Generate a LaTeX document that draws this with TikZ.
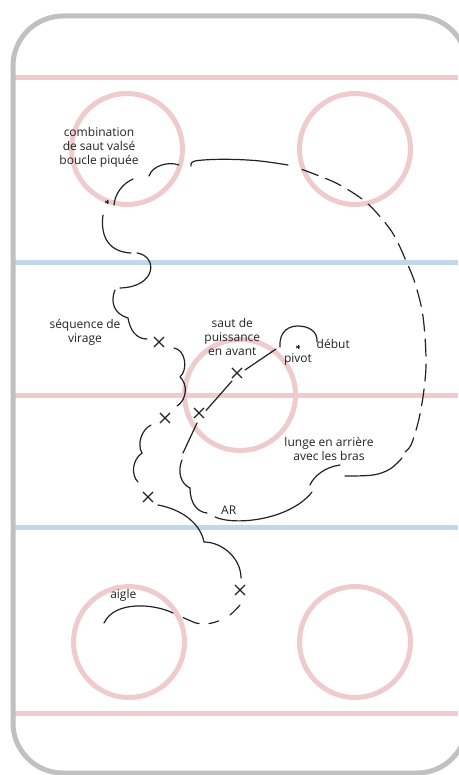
\documentclass[tikz,border=0pt]{standalone}
\usepackage{fontspec}
\setmainfont{Open Sans}
\usetikzlibrary{shapes.misc}
\definecolor{rinkpink}{RGB}{240,203,206}
\definecolor{rinkblue}{RGB}{192,216,234}
\definecolor{rinkgray}{RGB}{192,192,192}
\definecolor{ink}{RGB}{34,34,34}
\tikzset{
  redline/.style={draw=rinkpink, line width=5pt},
  blueline/.style={draw=rinkblue, line width=5pt},
  boards/.style={draw=rinkgray, line width=5pt, rounded corners=50pt},
  trace/.style={draw=ink, line width=1.2pt, line cap=round},
  gapdash/.style={trace, dash pattern=on 17pt off 8pt},
  jump/.style={cross out, draw=ink, line width=1.1pt, minimum size=9pt, inner sep=0pt},
  lbl/.style={font=\fontsize{12}{14}\selectfont, align=center, inner sep=0pt, text=ink},
  pics/pivotstar/.style={code={
    \foreach \a in {90,30,150} \draw[ink, line width=0.7pt] (\a:2.2) -- (\a+180:2.2);}},
}
\begin{document}
\begin{tikzpicture}[x=1pt,y=-1pt]
\useasboundingbox (0,0) rectangle (458,775);

% rink markings
\draw[redline] (13,78) -- (458,78);
\draw[blueline] (13,263) -- (458,263);
\draw[redline] (13,395) -- (458,395);
\draw[blueline] (13,527) -- (458,527);
\draw[redline] (13,713) -- (458,713);
\draw[redline] (127,149) circle[radius=55.5];
\draw[redline] (355,149) circle[radius=55.5];
\draw[redline] (240,395) circle[radius=55.5];
\draw[redline] (129,642) circle[radius=55.5];
\draw[redline] (355,642) circle[radius=55.5];
\draw[boards] (13,16) rectangle (467,773);

% start: pivot loop and forward power jumps
\pic at (298,347) {pivotstar};
\draw[trace] (280,347) .. controls (279,330) and (290,326) .. (298,326) .. controls (308,326) and (318,331) .. (317,342);
\draw[trace] (276,349) -- (245,370);
\node[jump] (j1) at (237,373) {};
\draw[trace] (232,381) -- (206,410.5);
\node[jump] (j2) at (199,413) {};
\draw[trace] (197,423) -- (183,453);
\draw[trace] (182,460) .. controls (177,472) and (181,484) .. (190,488);
\draw[trace] (190,488) .. controls (190,503) and (197,512) .. (207,513);

% back crossovers, lunge and the long dashed loop
\draw[trace] (215,517) .. controls (235,526) and (290,520) .. (312,492);
\draw[trace] (310,485) .. controls (314,476) and (325,467) .. (340,465);
\draw[trace] plot[smooth, tension=0.6] coordinates {(345,476) (373,475) (390,469) (402,458)};
\draw[gapdash] plot[smooth] coordinates {(405,452) (411,445) (418,423) (423,397) (426,367) (425,337) (422,310) (415,283) (407,263) (392,232) (367,203) (336,183) (298,168)};
\draw[trace] plot[smooth, tension=0.6] coordinates {(288,165) (257,160.7) (223,159.3) (195,161) (191,166)};

% jump combination
\draw[trace] (149,176) .. controls (152,166) and (168,161) .. (179,165);
\draw[trace] (133,179) .. controls (122,184) and (115,194) .. (114,205);
\pic at (107,202) {pivotstar};

% step sequence
\draw[trace] (103,215) .. controls (100,238) and (110,252) .. (131,253);
\draw[trace] (137,253) .. controls (158,256) and (157,287) .. (120,288);
\draw[trace] (115,290) .. controls (110,302) and (114,314) .. (128,318);
\draw[trace] (128,318) .. controls (130,330) and (136,339) .. (147,339);
\node[jump] (j3) at (159,342) {};
\draw[trace] (174,348) .. controls (186,350) and (188,370) .. (180,377);
\draw[trace] (180,377) .. controls (188,384) and (187,400) .. (177,406);
\node[jump] (j4) at (165,418) {};
\draw[trace] (151,425) .. controls (141,430) and (137,445) .. (142,453);
\draw[trace] (142,453) .. controls (132,460) and (131,475) .. (138,482);
\node[jump] (j5) at (148,497) {};
\draw[trace] (158,505) .. controls (180,509) and (200,522) .. (204,542);
\draw[trace] (204,542) .. controls (222,542) and (241,558) .. (241,578);
\node[jump] (j6) at (240,590) {};

% spread eagle
\draw[trace, dash pattern=on 14pt off 13pt on 10pt off 10pt on 17pt off 30pt] plot[smooth] coordinates {(240,605) (230,615) (217,621.5) (206,624) (196,623) (182,617)};
\draw[trace] (173,613) .. controls (155,604) and (115,600) .. (104,623);

% labels
\node[lbl] (combo) at (99,147) {combination\\de saut valsé\\boucle piquée};
\node[lbl] (steps) at (85,332.5) {séquence de\\virage};
\node[lbl] (power) at (232.3,336.5) {saut de\\puissance\\en avant};
\node[lbl, anchor=base west] (debut) at (316.5,348.5) {début};
\node[lbl, anchor=base] (pivot) at (298,362.5) {pivot};
\node[lbl] (lunge) at (329,449) {lunge en arrière\\avec les bras};
\node[lbl, anchor=base] (ar) at (228.7,514) {AR};
\node[lbl, anchor=base] (eagle) at (123.3,598.3) {aigle};
\end{tikzpicture}
\end{document}
